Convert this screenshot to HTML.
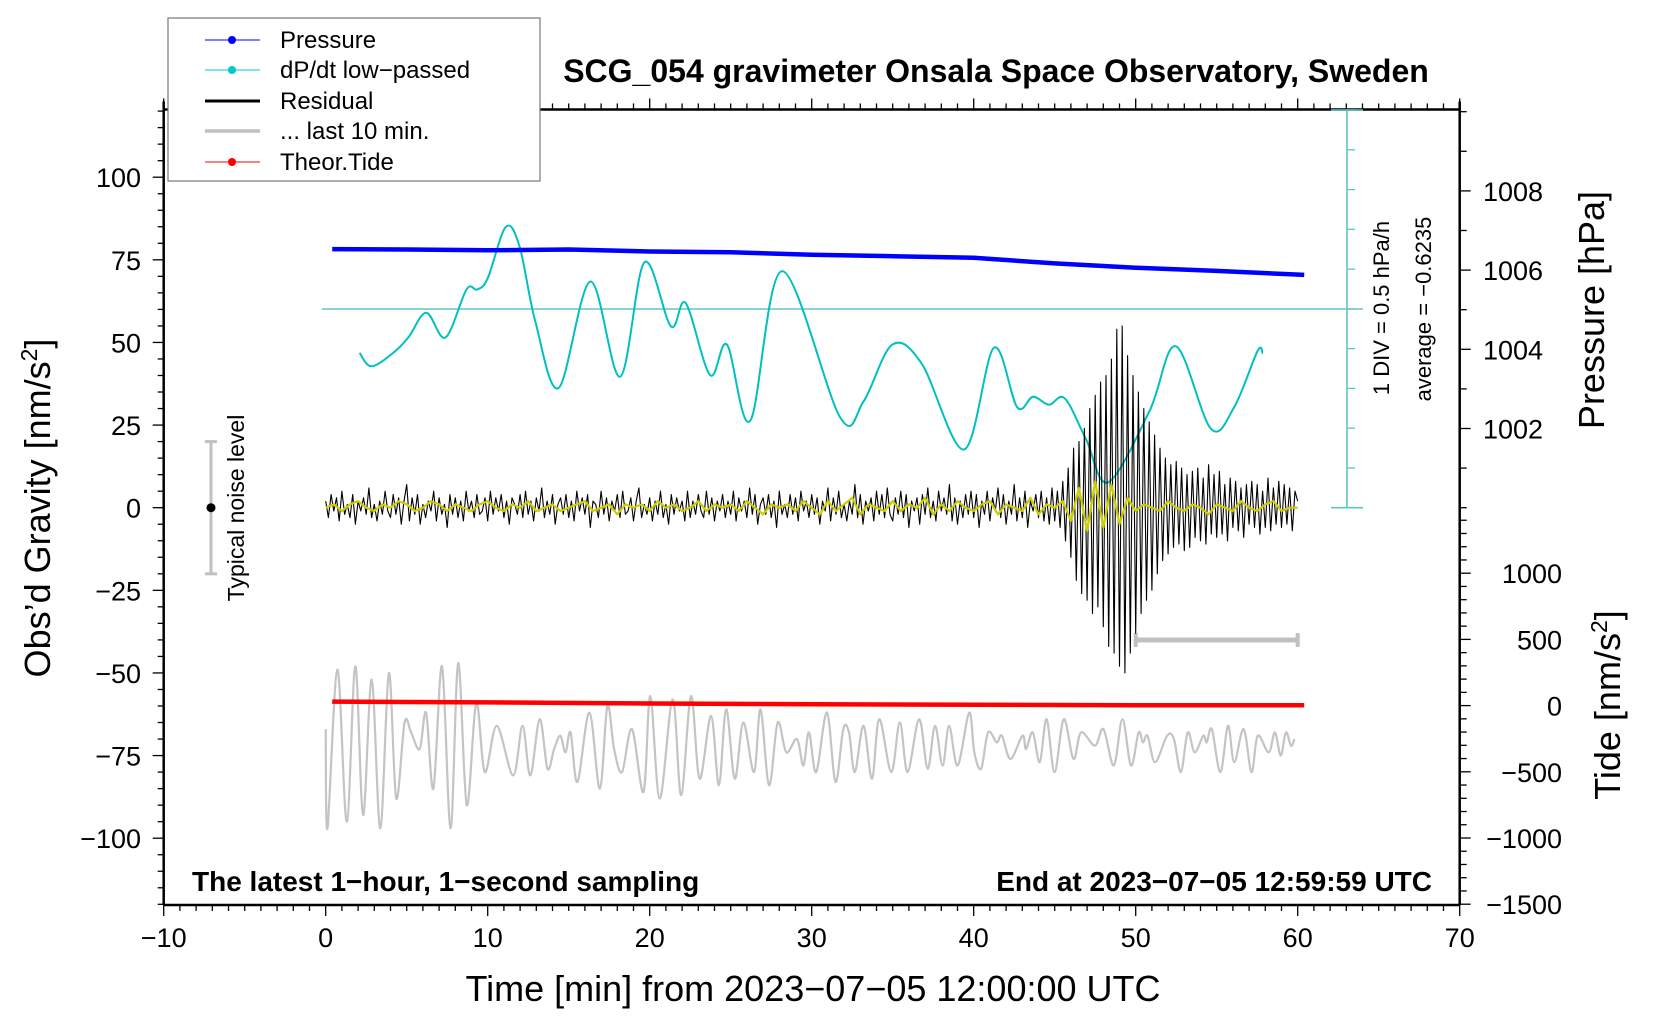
<!DOCTYPE html>
<html><head><meta charset="utf-8"><style>
html,body{margin:0;padding:0;background:#fff}
svg{display:block;font-family:"Liberation Sans",sans-serif}
</style></head><body>
<svg id="chart" width="1660" height="1020" viewBox="0 0 1660 1020" xmlns="http://www.w3.org/2000/svg">
<g id="axes"></g>
<g id="marks"></g>
<text x="996" y="82" text-anchor="middle" font-size="32" font-weight="bold">SCG_054 gravimeter Onsala Space Observatory, Sweden</text>
<text x="813" y="1001" text-anchor="middle" font-size="36">Time [min] from 2023−07−05 12:00:00 UTC</text>
<text transform="translate(50,508) rotate(-90)" text-anchor="middle" font-size="36">Obs’d Gravity [nm/s<tspan dy="-13" font-size="23">2</tspan><tspan dy="13">]</tspan></text>
<text transform="translate(1604,310) rotate(-90)" text-anchor="middle" font-size="36">Pressure [hPa]</text>
<text transform="translate(1620,705) rotate(-90)" text-anchor="middle" font-size="36">Tide [nm/s<tspan dy="-13" font-size="23">2</tspan><tspan dy="13">]</tspan></text>
<text x="192" y="891" font-size="28" font-weight="bold">The latest 1−hour, 1−second sampling</text>
<text x="1432" y="891" text-anchor="end" font-size="28" font-weight="bold">End at 2023−07−05 12:59:59 UTC</text>
<text transform="translate(1389,308) rotate(-90)" text-anchor="middle" font-size="22">1 DIV = 0.5 hPa/h</text>
<text transform="translate(1431,309) rotate(-90)" text-anchor="middle" font-size="22">average = −0.6235</text>
<g>
<line x1="211" y1="441.6" x2="211" y2="573.8" stroke="#c0c0c0" stroke-width="3"/>
<line x1="205" y1="441.6" x2="217" y2="441.6" stroke="#c0c0c0" stroke-width="3"/>
<line x1="205" y1="573.8" x2="217" y2="573.8" stroke="#c0c0c0" stroke-width="3"/>
<circle cx="211" cy="507.7" r="4.5" fill="#000"/>
<text transform="translate(244,508) rotate(-90)" text-anchor="middle" font-size="23">Typical noise level</text>
</g>
<g>
<rect x="168" y="18" width="372" height="163" fill="#fff" stroke="#777" stroke-width="1.2"/>
<g><line x1="205" y1="40" x2="260" y2="40" stroke="#0000ff" stroke-width="1"/><circle cx="232" cy="40" r="4" fill="#0000ff"/><text x="280" y="48" font-size="24">Pressure</text></g>
<g><line x1="205" y1="70" x2="260" y2="70" stroke="#00c8c8" stroke-width="1"/><circle cx="232" cy="70" r="4" fill="#00c8c8"/><text x="280" y="78" font-size="24">dP/dt low−passed</text></g>
<g><line x1="205" y1="101" x2="260" y2="101" stroke="#000" stroke-width="3"/><text x="280" y="109" font-size="24">Residual</text></g>
<g><line x1="205" y1="131" x2="260" y2="131" stroke="#c0c0c0" stroke-width="3.5"/><text x="280" y="139" font-size="24">... last 10 min.</text></g>
<g><line x1="205" y1="162" x2="260" y2="162" stroke="#ff0000" stroke-width="1"/><circle cx="232" cy="162" r="4" fill="#ff0000"/><text x="280" y="170" font-size="24">Theor.Tide</text></g>
</g>
</svg>
<script>
// ---- data ----
const xTicks=[-10,0,10,20,30,40,50,60,70];
const gravTicks=[-100,-75,-50,-25,0,25,50,75,100];
const pressTicks=[1002,1004,1006,1008];
const tideTicks=[-1500,-1000,-500,0,500,1000];
const pressTime=[0.4,5,10,15,20,25,30,35,40,45,50,55,60.4];
const pressVal=[1006.53,1006.52,1006.5,1006.52,1006.47,1006.45,1006.39,1006.35,1006.31,1006.17,1006.06,1005.98,1005.88];
const tideTime=[0.4,10,20,30,40,50,60.4];
const tideVal=[30,24,16,10,6,3,2];
const cyanTime=[2.09,2.81,4.12,5.10,6.21,7.39,8.69,9.35,10.0,11.11,11.96,12.94,14.38,16.34,18.17,19.67,21.31,22.22,23.73,24.77,26.21,28.17,31.76,33.20,34.97,36.80,39.41,41.24,42.68,43.66,44.64,45.62,46.93,48.30,50.85,52.48,54.64,56.08,57.52,57.84];
const cyanVal=[-1.17,-1.34,-1.18,-0.98,-0.67,-0.98,-0.38,-0.38,-0.24,0.40,0.16,-0.78,-1.61,-0.28,-1.47,-0.04,-0.84,-0.55,-1.45,-1.07,-2.02,-0.15,-1.98,-1.78,-1.07,-1.31,-2.38,-1.11,-1.85,-1.72,-1.82,-1.74,-2.25,-2.79,-1.90,-1.09,-2.12,-1.85,-1.15,-1.18];
const cyanAvg=-0.6235;
const residual=[
2,-3,4,-1,3,-4,5,-2,1,-3,4,-5,2,-1,3,-2,6,-3,1,-4,2,-2,5,-1,-3,4,-2,3,-5,2,
7,-4,3,-2,4,-5,1,-3,2,-1,5,-4,3,-2,1,-6,4,-2,3,-3,2,-4,5,-1,2,-3,4,-2,-1,3,
-4,5,-2,3,-1,4,-3,2,-5,3,1,-2,4,-3,5,-2,2,-4,3,-1,6,-3,2,-2,4,-5,1,3,-2,4,
-3,2,-4,5,-1,3,-2,4,-6,2,1,-3,5,-2,3,-4,2,-1,4,-3,5,-2,-1,3,-4,2,6,-3,1,-2,
3,-4,2,-2,5,-3,1,-5,4,-2,3,-1,2,-4,5,-3,2,-2,4,-1,-3,5,-2,3,-4,2,-1,4,-3,2,
-2,5,-4,3,-1,2,-3,6,-2,4,-5,1,3,-2,4,-3,2,-6,5,-2,1,-3,4,-2,3,-4,5,-1,2,-3,
4,-2,3,-5,2,-1,6,-4,3,-2,5,-3,1,-4,2,-2,7,-3,4,-5,2,-1,3,-4,5,-2,4,-3,6,-2,
-4,3,-2,5,-3,4,-6,2,-1,3,-5,4,-2,6,-3,2,-4,5,-1,3,-2,7,-4,3,-5,2,-3,4,-2,5,
-3,4,-6,2,-2,5,-4,3,-1,6,-3,4,-5,2,-2,7,-4,3,-3,5,-6,2,-1,4,-3,5,-4,3,-5,6,
-4,5,-6,8,-10,12,-15,18,-22,20,-26,24,-28,30,-32,34,-30,38,-36,40,-42,45,-44,54,-48,55,-50,46,-44,40,
-38,35,-32,30,-28,26,-25,22,-20,18,-16,15,-14,13,-12,14,-11,12,-13,10,-12,11,-9,12,-10,9,-11,13,-8,10,
-9,11,-8,7,-10,9,-6,8,-7,6,-9,7,-5,8,-6,7,-8,5,-6,9,-7,6,-5,8,-6,7,-5,6,-7,5,
2];
const yellow=[
0,1,-1,1,2,0,-1,1,0,2,
1,-1,0,2,1,-1,1,0,-1,1,
2,0,-1,1,0,2,-1,0,1,-1,
0,1,2,-1,0,1,-2,1,0,1,
-1,2,0,1,-1,0,2,-1,1,0,
1,-1,2,0,-2,1,0,1,-1,2,
0,-2,2,-1,1,3,-2,1,0,-1,
2,-1,1,0,3,-2,1,-1,2,0,
-1,1,2,-2,1,0,-1,3,-2,1,
0,2,-4,6,-7,8,-6,7,-5,3,
-1,1,0,-1,2,0,-1,1,0,-2,
1,0,-1,2,0,-1,1,2,-1,0,
0];
const grayTime=[0,0.11,0.72,1.30,1.83,2.31,2.84,3.37,3.90,4.35,4.87,5.27,5.80,6.20,6.65,7.18,7.71,8.18,8.71,9.29,9.82,10.56,11.57,12.15,12.63,13.21,13.69,14.10,14.48,14.80,15.12,15.54,16.28,16.92,17.39,17.8,18.29,18.90,19.62,20.04,20.62,21.42,21.94,22.55,23.08,23.79,24.27,24.72,25.25,25.78,26.44,26.84,27.37,27.90,28.43,29.09,29.49,29.83,30.28,30.94,31.47,31.95,32.30,32.66,33.2,33.72,34.17,34.91,35.44,35.92,36.63,37.16,37.61,38.08,38.48,39.01,39.72,40.04,40.46,40.89,41.42,41.74,42.27,43.01,43.23,43.65,44.08,44.50,44.99,45.56,46.16,46.63,47.48,48.01,48.65,49.18,49.71,50.18,50.45,50.73,51.20,51.94,52.36,52.79,53.21,53.64,54.17,54.38,54.70,55.23,55.70,56.08,56.66,57.15,57.53,58.21,58.59,58.95,59.27,59.59,59.80];
const grayVal=[-67,-97,-49,-95,-48,-93,-52,-97,-50,-88,-65,-68,-73,-62,-85,-48,-97,-47,-90,-59,-80,-66,-81,-66,-81,-64,-79,-73,-69,-74,-68,-83,-62,-85,-60,-73,-80,-67,-86,-57,-88,-58,-87,-57,-82,-63,-84,-61,-82,-65,-80,-61,-84,-65,-74,-70,-78,-68,-80,-62,-83,-67,-68,-80,-66,-82,-64,-80,-65,-80,-64,-79,-66,-78,-66,-78,-62,-74,-79,-68,-71,-69,-76,-69,-73,-68,-77,-64,-80,-64,-76,-68,-72,-67,-78,-64,-78,-68,-71,-69,-77,-69,-70,-80,-68,-74,-69,-71,-67,-80,-66,-77,-67,-80,-69,-74,-68,-75,-68,-72,-70];
// ---- scales ----
const X=m=>325.7+m*16.2;
const G=v=>507.7-v*3.305;
const P=v=>507.7-(v-1000)*39.6;
const T=v=>705.6-v*0.1324;
const C=v=>309-(v-cyanAvg)*80;
const NS='http://www.w3.org/2000/svg';
const axes=document.getElementById('axes'), marks=document.getElementById('marks');
function mk(tag,attrs,parent){const e=document.createElementNS(NS,tag);for(const k in attrs)e.setAttribute(k,attrs[k]);parent.appendChild(e);return e;}
function line(x1,y1,x2,y2,st,w,p){return mk('line',{x1,y1,x2,y2,stroke:st,'stroke-width':w},p);}
function txt(x,y,s,anchor,p){const t=mk('text',{x,y,'font-size':27,'text-anchor':anchor},p);t.textContent=s;return t;}
function smooth(pts){let d='M'+pts[0][0]+','+pts[0][1];for(let i=0;i<pts.length-1;i++){const p0=pts[Math.max(0,i-1)],p1=pts[i],p2=pts[i+1],p3=pts[Math.min(pts.length-1,i+2)];const c1=[p1[0]+(p2[0]-p0[0])/6,p1[1]+(p2[1]-p0[1])/6],c2=[p2[0]-(p3[0]-p1[0])/6,p2[1]-(p3[1]-p1[1])/6];d+=' C'+c1[0].toFixed(1)+','+c1[1].toFixed(1)+' '+c2[0].toFixed(1)+','+c2[1].toFixed(1)+' '+p2[0].toFixed(1)+','+p2[1].toFixed(1);}return d;}
function poly(pts){return 'M'+pts.map(p=>p[0].toFixed(1)+','+p[1].toFixed(1)).join(' L');}
// ---- axes ----
const xl=X(-10), xr=X(70), yt=G(120.5), yb=G(-120.2);
line(xl,yt,xr,yt,'#000',2.5,axes);
line(xl,yb,xr,yb,'#000',2.5,axes);
line(xl,yt-8,xl,yb,'#000',2.5,axes);
line(xr,yt-8,xr,yb,'#000',2.5,axes);
for(let m=-10;m<=70;m++){const big=m%10===0;line(X(m),yb,X(m),yb+(big?11:6),'#000',1.3,axes);line(X(m),yt,X(m),yt-(big?11:6),'#000',1.3,axes);}
xTicks.forEach(v=>{const t=txt(X(v),947,String(v).replace('-','−'),'middle',axes);});
for(let v=-120;v<=120;v+=5){const big=v%25===0;line(xl,G(v),xl-(big?11:6),G(v),'#000',1.3,axes);}
gravTicks.forEach(v=>{const t=txt(141,G(v)+10,String(v).replace('-','−'),'end',axes);});
for(let v=1000;v<=1010;v+=1){const big=v%2===0&&v>1000&&v<1010;line(xr,P(v),xr+(big?11:7),P(v),'#000',1.3,axes);}
pressTicks.forEach(v=>{const t=txt(1483,P(v)+10,String(v),'start',axes);});
for(let v=-1500;v<=1400;v+=100){const big=v%500===0;line(xr,T(v),xr+(big?11:7),T(v),'#000',1.3,axes);}
tideTicks.forEach(v=>{const t=txt(1562,T(v)+10,String(v).replace('-','−'),'end',axes);});
// dP/dt axis
const cx=1347;
line(cx,110,cx,507.7,'#5fc4c4',1.6,axes);
for(let y=110;y<=508;y+=39.77){line(cx,y,cx+8,y,'#5fc4c4',1.3,axes);}
line(cx-16,110,cx+16,110,'#5fc4c4',1.6,axes);
line(cx-16,507.7,cx+16,507.7,'#5fc4c4',1.6,axes);
const avgLine=line(322,C(cyanAvg),1363,C(cyanAvg),'#66c6c6',1.6,marks);


// last-10-min marker
const mg=mk('g',{},marks);


line(X(50),640,X(60),640,'#c0c0c0',5,mg);
line(X(50),633,X(50),647,'#c0c0c0',4,mg);
line(X(60),633,X(60),647,'#c0c0c0',4,mg);
// ---- series ----
const pth=(d,st,w,name)=>{const e=mk('path',{d,fill:'none',stroke:st,'stroke-width':w,'stroke-linejoin':'round'},marks);return e;};
pth(smooth(grayTime.map((t,i)=>[X(t),G(grayVal[i])])),'#c4c4c4',2.2,'last-10-min-line');
pth(poly(tideTime.map((t,i)=>[X(t),T(tideVal[i])])),'#ff0000',4.5,'theoretical-tide-line');
pth(smooth(cyanTime.map((t,i)=>[X(t),C(cyanVal[i])])),'#00c0c0',2,'dpdt-line');
pth(poly(pressTime.map((t,i)=>[X(t),P(pressVal[i])])),'#0000ff',4.5,'pressure-line');
pth(poly(residual.map((v,i)=>[X(i/6),G(v)])),'#000',1.1,'residual-line');
pth(poly(yellow.map((v,i)=>[X(i/2),G(v)])),'#cccc00',2.2,'residual-smoothed-line');
</script>
</body></html>
